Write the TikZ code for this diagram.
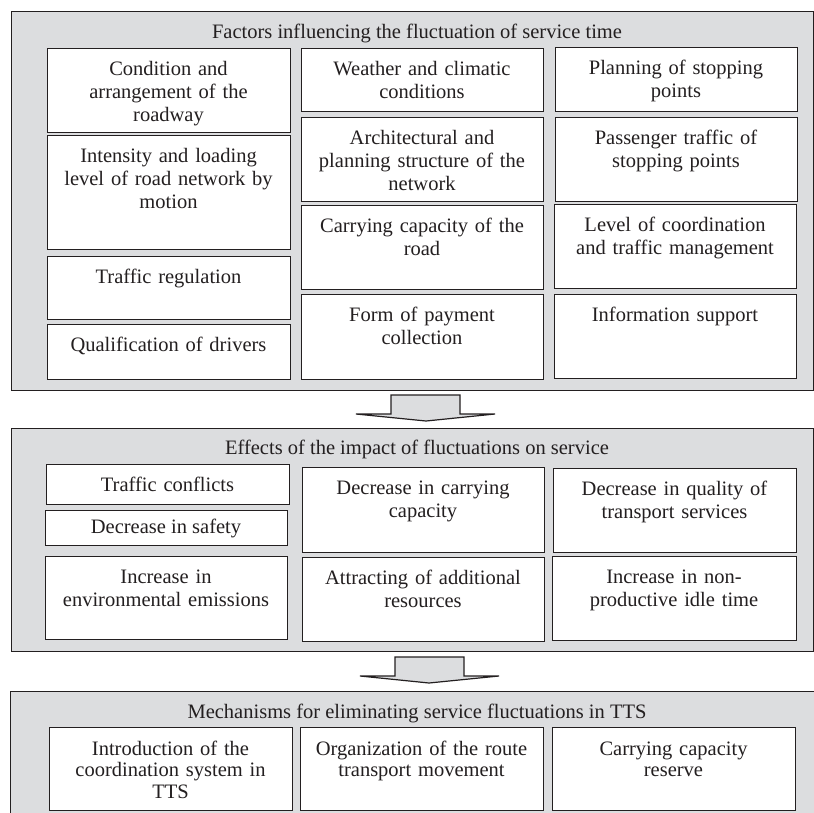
\documentclass[tikz,border=0pt]{standalone}
\usepackage{fontspec}
\setmainfont{Liberation Serif}
\definecolor{panelgray}{RGB}{220,221,223}
\definecolor{ink}{RGB}{35,31,32}
\tikzset{
  panel/.style={draw=ink, line width=1pt, fill=panelgray, anchor=north west, inner sep=0pt},
  box/.style={draw=ink, line width=1.2pt, fill=white, anchor=north west, inner sep=0pt},
  txt/.style={anchor=base, align=center, font=\fontsize{20.5}{23}\selectfont, text=ink, inner sep=0pt},
  txtb/.style={txt, font=\fontsize{20.5}{21.5}\selectfont},
  blockarrow/.style={draw=ink, line width=1.2pt, fill=panelgray, line join=miter}
}
% name, x1, y1, x2, y2, text
\newcommand\fbx[6]{%
  \node[box, minimum width={(#4-#2)*1pt}, minimum height={(#5-#3)*1pt}] (#1) at (#2,#3) {};
  \node[txt, text width={(#4-#2-4)*1pt}] (#1t) at ({(#2+#4)/2},{#3+27}) {#6};
}
\newcommand\fbxb[6]{%
  \node[box, minimum width={(#4-#2)*1pt}, minimum height={(#5-#3)*1pt}] (#1) at (#2,#3) {};
  \node[txtb, text width={(#4-#2-4)*1pt}] (#1t) at ({(#2+#4)/2},{#3+28}) {#6};
}
\begin{document}
\begin{tikzpicture}[x=1pt,y=-1pt]
\useasboundingbox (0,0) rectangle (814,812);
\clip (0,0) rectangle (814,812);

% ---------- panel 1
\node[panel, minimum width=802pt, minimum height=379pt] (p1) at (11,11) {};
\node[txt] (t1) at (417,38) {Factors influencing the fluctuation of service time};
\fbx{a1}{47}{48}{290}{132}{Condition and\\arrangement of the\\roadway}
\fbx{a2}{47}{135}{290}{249}{Intensity and loading\\level of road network by\\motion}
\fbx{a3}{47}{256}{290}{319}{Traffic regulation}
\fbx{a4}{47}{324}{290}{379}{Qualification of drivers}
\fbx{b1}{301}{48}{543}{111}{Weather and climatic\\conditions}
\fbx{b2}{301}{117}{543}{201}{Architectural and\\planning structure of the\\network}
\fbx{b3}{301}{205}{543}{289}{Carrying capacity of the\\road}
\fbx{b4}{301}{294}{543}{379}{Form of payment\\collection}
\fbx{c1}{555}{47}{797}{111}{Planning of stopping\\points}
\fbx{c2}{555}{117}{797}{201}{Passenger traffic of\\stopping points}
\fbx{c3}{554}{204}{796}{288}{Level of coordination\\and traffic management}
\fbx{c4}{554}{294}{796}{378}{Information support}

% ---------- arrow 1
\draw[blockarrow] (391,395) -- (460,395) -- (460,414) -- (495,414) -- (426,421) -- (356,414) -- (391,414) -- cycle;

% ---------- panel 2
\node[panel, minimum width=802pt, minimum height=223pt] (p2) at (11,428) {};
\node[txt] (t2) at (417,454) {Effects of the impact of fluctuations on service};
\fbx{d1}{46}{464}{289}{504}{Traffic conflicts}
\node[box, minimum width=242pt, minimum height=35pt] (d2) at (45,510) {};
\node[txt] (d2t) at (166,533) {Decrease in safety};
\fbx{d3}{45}{556}{287}{639}{Increase in\\environmental emissions}
\fbx{e1}{302}{467}{544}{552}{Decrease in carrying\\capacity}
\fbx{e2}{302}{557}{544}{641}{Attracting of additional\\resources}
\fbx{f1}{553}{468}{796}{552}{Decrease in quality of\\transport services}
\fbx{f2}{552}{556}{796}{640}{Increase in non-\\productive idle time}

% ---------- arrow 2
\draw[blockarrow] (395,657) -- (464,657) -- (464,676) -- (499,676) -- (429,683) -- (360,676) -- (395,676) -- cycle;

% ---------- panel 3
\node[panel, minimum width=806pt, minimum height=140pt] (p3) at (10,691) {};
\node[txt] (t3) at (417,718) {Mechanisms for eliminating service fluctuations in TTS};
\fbxb{g1}{49}{727}{292}{810}{Introduction of the\\coordination system in\\TTS}
\fbxb{g2}{300}{727}{543}{810}{Organization of the route\\transport movement}
\fbxb{g3}{552}{727}{795}{810}{Carrying capacity\\reserve}
\end{tikzpicture}
\end{document}
